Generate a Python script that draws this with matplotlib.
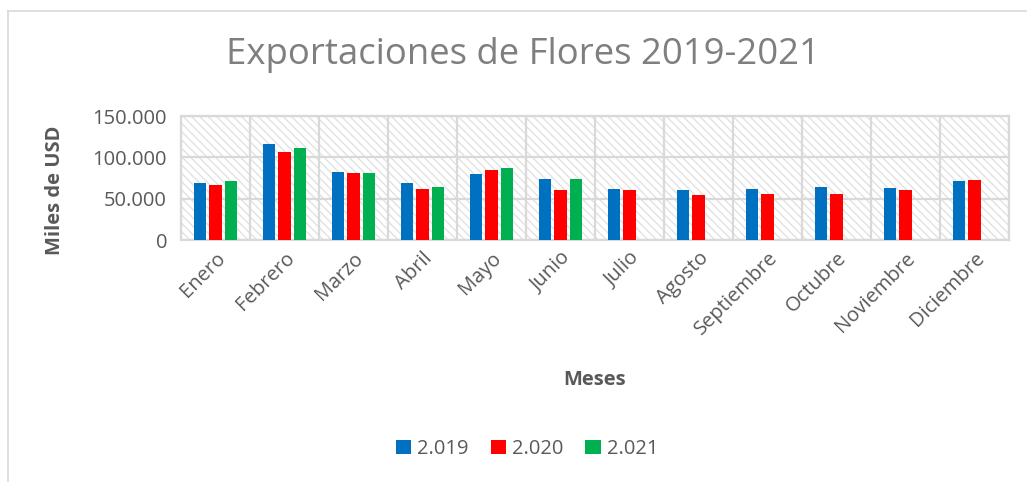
import numpy as np
import matplotlib
matplotlib.use("Agg")
import matplotlib.pyplot as plt
from matplotlib.patches import Rectangle
from matplotlib.lines import Line2D
from matplotlib.ticker import FuncFormatter, FixedLocator

meses = ["Enero", "Febrero", "Marzo", "Abril", "Mayo", "Junio", "Julio",
         "Agosto", "Septiembre", "Octubre", "Noviembre", "Diciembre"]
v2019 = [69100, 115800, 81700, 69100, 79600, 74000, 61900, 60300, 61100, 64400, 62400, 71200]
v2020 = [66700, 106200, 80500, 61500, 84800, 60300, 60300, 54700, 55100, 55100, 60300, 72000]
v2021 = [71200, 111400, 81000, 63600, 86900, 73200, np.nan, np.nan, np.nan, np.nan, np.nan, np.nan]
series = ["2.019", "2.020", "2.021"]
colores = ["#0070C0", "#FF0000", "#00B050"]

gris = "#595959"
linea = "#D9D9D9"
plt.rcParams["font.family"] = ["Open Sans", "DejaVu Sans"]
plt.rcParams["hatch.linewidth"] = 1.0

fig = plt.figure(figsize=(10.27, 4.82), dpi=100)
ax = fig.add_axes([181 / 1027, 1 - 240 / 482, 828 / 1027, 124 / 482])

# fondo rayado del area de trazado
ax.add_patch(Rectangle((0, 0), 1, 1, transform=ax.transAxes, facecolor="white",
                       edgecolor="#E2E2E2", linewidth=0, hatch="\\\\\\\\", zorder=0))

x = np.arange(len(meses))
ancho = 0.175
paso = 0.22
for i, (vals, nombre, c) in enumerate(zip([v2019, v2020, v2021], series, colores)):
    ax.bar(x + (i - 1) * paso, vals, width=ancho, color=c, label=nombre, zorder=3)

ax.set_xlim(-0.5, len(meses) - 0.5)
ax.set_ylim(0, 150000)
ax.set_yticks([0, 50000, 100000, 150000])
ax.yaxis.set_major_formatter(FuncFormatter(lambda v, p: "{:,.0f}".format(v).replace(",", ".")))
ax.set_xticks(x)
ax.set_xticklabels(meses, rotation=45, ha="right", rotation_mode="anchor")
ax.xaxis.set_minor_locator(FixedLocator(np.arange(-0.5, len(meses), 1.0)))
ax.tick_params(axis="both", which="both", length=0, labelsize=14.5, labelcolor=gris)
ax.tick_params(axis="x", pad=6)
ax.tick_params(axis="y", pad=10)
ax.grid(axis="y", which="major", color=linea, linewidth=1.6, zorder=1)
ax.grid(axis="x", which="minor", color=linea, linewidth=1.6, zorder=1)
ax.set_axisbelow(True)
for s in ax.spines.values():
    s.set_color(linea)
    s.set_linewidth(1.6)

fig.text(55 / 1027, 1 - 190 / 482, "Miles de USD", fontsize=14.5, fontweight="bold",
         color=gris, ha="center", va="center", rotation=90)
fig.text(595 / 1027, 1 - 380 / 482, "Meses", fontsize=14.5, fontweight="bold",
         color=gris, ha="center", va="center")
fig.text(523 / 1027, 1 - 55 / 482, "Exportaciones de Flores 2019-2021", fontsize=26.3,
         color="#7F7F7F", ha="center", va="center")

fig.legend(loc="center", bbox_to_anchor=(527 / 1027, 1 - 449 / 482), ncol=3, frameon=False,
           fontsize=14.5, labelcolor=gris, handlelength=0.75, handleheight=0.75,
           handletextpad=0.3, columnspacing=1.1)

# borde del grafico
fig.add_artist(Line2D([8 / 1027, 8 / 1027], [0, 1 - 11 / 482], transform=fig.transFigure,
                      color=linea, linewidth=1.2))
fig.add_artist(Line2D([8 / 1027, 1], [1 - 11 / 482, 1 - 11 / 482], transform=fig.transFigure,
                      color=linea, linewidth=1.2))

fig.savefig("out.png", dpi=100)
